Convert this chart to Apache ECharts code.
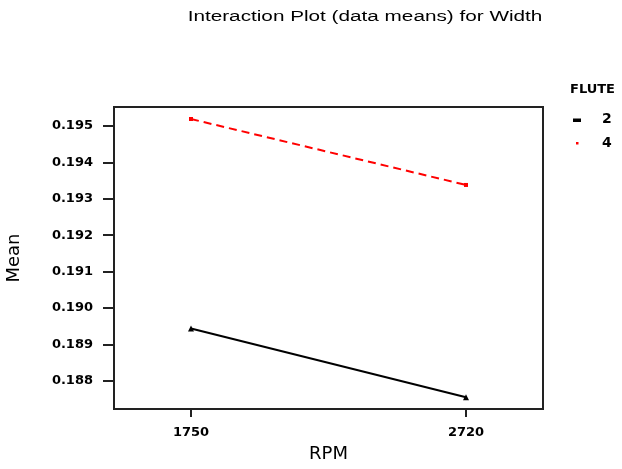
<!DOCTYPE html>
<html><head><meta charset="utf-8">
<script src="https://cdn.jsdelivr.net/npm/echarts@6/dist/echarts.min.js"></script>
<style>html,body{margin:0;padding:0;background:#fff}#c{width:622px;height:469px}</style>
</head><body><div id="c"></div>
<script>
const rpm = [1750, 2720];
const flute2 = [0.18944, 0.18755];
const flute4 = [0.19519, 0.19338];
const yTicks = [0.188, 0.189, 0.190, 0.191, 0.192, 0.193, 0.194, 0.195];
const seriesNames = ['2', '4'];
const titleText = 'Interaction Plot (data means) for Width';
const legendTitle = 'FLUTE';

const chart = echarts.init(document.getElementById('c'));
const wfont = 'DejaVu Sans, Verdana, sans-serif';
chart.setOption({
  animation: false,
  backgroundColor: '#fff',
  graphic: [
    {type: 'text', x: 365, y: 17, scaleX: 1.48,
     style: {text: titleText, font: '14px "Liberation Sans", Arial, sans-serif', fill: '#000', align: 'center', verticalAlign: 'middle'}},
    {type: 'text', x: 570, y: 90,
     style: {text: legendTitle, font: 'bold 13px "DejaVu Sans", sans-serif', fill: '#000', align: 'left', verticalAlign: 'middle'}},
    {type: 'rect', shape: {x: 573, y: 118.5, width: 8, height: 3.5}, style: {fill: '#000'}},
    {type: 'text', x: 602, y: 119,
     style: {text: seriesNames[0], font: 'bold 14px "DejaVu Sans", sans-serif', fill: '#000', align: 'left', verticalAlign: 'middle'}},
    {type: 'rect', shape: {x: 576, y: 142, width: 2.5, height: 2.5}, style: {fill: '#ff0000'}},
    {type: 'text', x: 602, y: 143,
     style: {text: seriesNames[1], font: 'bold 14px "DejaVu Sans", sans-serif', fill: '#000', align: 'left', verticalAlign: 'middle'}}
  ],
  grid: {left: 114, top: 107, width: 429, height: 302, outerBoundsMode: 'none', containLabel: false,
    show: true, borderColor: '#222', borderWidth: 2, backgroundColor: 'transparent'},
  xAxis: {
    type: 'value', min: 1478.4, max: 2991.6,
    name: 'RPM', nameLocation: 'middle', nameGap: 36,
    nameTextStyle: {fontFamily: wfont, fontSize: 18, color: '#000'},
    axisLine: {show: true, lineStyle: {color: '#222', width: 2}},
    axisTick: {show: true, length: 8, lineStyle: {color: '#222', width: 2}, customValues: rpm},
    axisLabel: {fontFamily: wfont, fontSize: 13, fontWeight: 'bold', color: '#000', margin: 17,
      customValues: rpm, formatter: v => String(v)},
    splitLine: {show: false}
  },
  yAxis: {
    type: 'value', min: 0.18723, max: 0.19552,
    name: 'Mean', nameLocation: 'middle', nameGap: 91, nameRotate: 90,
    nameTextStyle: {fontFamily: wfont, fontSize: 18, color: '#000'},
    axisLine: {show: true, lineStyle: {color: '#222', width: 2}},
    axisTick: {show: true, length: 11, lineStyle: {color: '#222', width: 2}, customValues: yTicks},
    axisLabel: {fontFamily: wfont, fontSize: 13, fontWeight: 'bold', color: '#000', margin: 21,
      customValues: yTicks, formatter: v => v.toFixed(3)},
    splitLine: {show: false}
  },
  series: [
    {name: seriesNames[0], type: 'line', data: rpm.map((x, i) => [x, flute2[i]]),
     lineStyle: {color: '#000', width: 2}, itemStyle: {color: '#000'},
     symbol: 'triangle', symbolSize: 6},
    {name: seriesNames[1], type: 'line', data: rpm.map((x, i) => [x, flute4[i]]),
     lineStyle: {color: '#ff0000', width: 2, type: [8, 5]}, itemStyle: {color: '#ff0000'},
     symbol: 'rect', symbolSize: 4}
  ]
});
</script></body></html>
